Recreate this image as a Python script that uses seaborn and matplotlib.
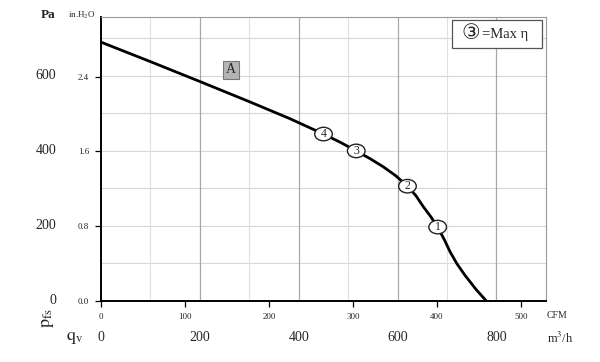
import matplotlib
matplotlib.use("Agg")
import matplotlib.pyplot as plt
import seaborn as sns
import pandas as pd
from matplotlib.patches import Ellipse, Rectangle

# fan curve (x in CFM, y in Pa)
curve_cfm = [0, 60, 120, 177, 225, 265, 285, 304, 320, 336, 351, 365, 375, 384, 393, 401, 409, 416, 424, 433, 447, 459]
curve_pa = [690, 637, 583, 531, 486, 445, 423, 400, 380, 358, 334, 306, 281, 251, 224, 197, 163, 130, 99, 70, 30, 0]

# operating points
op_labels = ["1", "2", "3", "4"]
op_cfm = [401, 365, 304, 265]
op_pa = [197, 306, 400, 445]

# axis ticks
cfm_ticks = [0, 100, 200, 300, 400, 500]
inh2o_ticks = [0.0, 0.8, 1.6, 2.4]
pa_ticks = [0, 200, 400, 600]
m3h_ticks = [0, 200, 400, 600, 800]
m3h_grid_major = [200, 400, 600, 800]
m3h_grid_minor = [100, 300, 500, 700]
pa_grid = [100, 200, 300, 400, 500, 600, 700]

M3H_PER_CFM = 1.699
PA_PER_INH2O = 249.09

sns.set_style("white")
plt.rcParams["font.family"] = ["Liberation Serif", "DejaVu Sans", "Noto Sans CJK SC"]
plt.rcParams["mathtext.fontset"] = "stix"

fig = plt.figure(figsize=(6, 3.62), dpi=100)
ax = fig.add_axes([101 / 600, 61 / 362, 445 / 600, 284 / 362])

ax.set_xlim(0, 530)
ax.set_ylim(0, 757)

# grid
for v in pa_grid:
    ax.axhline(v, color="#d6d6d6", lw=0.8, zorder=0)
for v in m3h_grid_minor:
    ax.axvline(v / M3H_PER_CFM, color="#e0e0e0", lw=0.8, zorder=0)
for v in m3h_grid_major:
    ax.axvline(v / M3H_PER_CFM, color="#a8a8a8", lw=0.9, zorder=0)

df = pd.DataFrame({"cfm": curve_cfm, "pa": curve_pa})
sns.lineplot(data=df, x="cfm", y="pa", color="black", lw=2, sort=False, ax=ax, zorder=3)

# circled operating points
for lab, x, y in zip(op_labels, op_cfm, op_pa):
    ax.add_patch(Ellipse((x, y), 21, 36, facecolor="white", edgecolor="#222222",
                         lw=1.0, zorder=4))
    ax.text(x, y, lab, ha="center", va="center", fontsize=8.5, zorder=5)

# curve label
ax.text(155, 616, "A", ha="center", va="center", fontsize=10,
        bbox=dict(boxstyle="square,pad=0.2", facecolor="#b4b4b4", edgecolor="#777777", lw=0.8))

# legend box
ax.add_patch(Rectangle((0.789, 0.891), 0.202, 0.098, transform=ax.transAxes,
                       facecolor="white", edgecolor="#555555", lw=0.9, zorder=6))
ax.text(0.832, 0.94, "③", transform=ax.transAxes, ha="center", va="center",
        fontsize=15, zorder=7)
ax.text(0.856, 0.94, "=Max η", transform=ax.transAxes, ha="left", va="center",
        fontsize=10.5, zorder=7)

# ticks
ax.set_xticks(cfm_ticks)
ax.set_xticklabels([str(v) for v in cfm_ticks], fontsize=6.5)
ax.set_yticks([v * PA_PER_INH2O for v in inh2o_ticks])
ax.set_yticklabels([f"{v:.1f}" for v in inh2o_ticks], fontsize=6.5)
ax.tick_params(axis="both", direction="out", length=4.5, width=0.9, color="black", pad=4,
               bottom=True, left=True)
ax.set_xlabel("")
ax.set_ylabel("")

for s in ["left", "bottom"]:
    ax.spines[s].set_color("black")
    ax.spines[s].set_linewidth(1.4)
for s in ["top", "right"]:
    ax.spines[s].set_color("#999999")
    ax.spines[s].set_linewidth(0.8)

# Pa labels on the far left
for v in pa_ticks:
    ax.text(-0.1, v, str(v), transform=ax.get_yaxis_transform(), ha="right",
            va="center", fontsize=10)

# secondary m3/h scale below
sec = ax.secondary_xaxis(-0.105, functions=(lambda c: c * M3H_PER_CFM,
                                           lambda m: m / M3H_PER_CFM))
sec.set_xticks(m3h_ticks)
sec.set_xticklabels([str(v) for v in m3h_ticks], fontsize=10)
sec.tick_params(length=0, pad=0)
sec.spines["bottom"].set_visible(False)

# unit labels
fig.text(48 / 600, 1 - 15 / 362, "Pa", ha="center", va="center", fontsize=9.5, fontweight="bold")
fig.text(82 / 600, 1 - 15 / 362, r"in.H$_2$O", ha="center", va="center", fontsize=6.5)
fig.text(48 / 600, 1 - 318 / 362, r"$\mathrm{p_{fs}}$", ha="center", va="center",
         fontsize=13, rotation=90)
fig.text(75 / 600, 1 - 337 / 362, r"$\mathrm{q_{v}}$", ha="center", va="center", fontsize=13)
fig.text(547 / 600, 1 - 315 / 362, "CFM", ha="left", va="center", fontsize=7)
fig.text(547 / 600, 1 - 338 / 362, r"m$^3$/h", ha="left", va="center", fontsize=9)

fig.savefig("out.png", dpi=100)
